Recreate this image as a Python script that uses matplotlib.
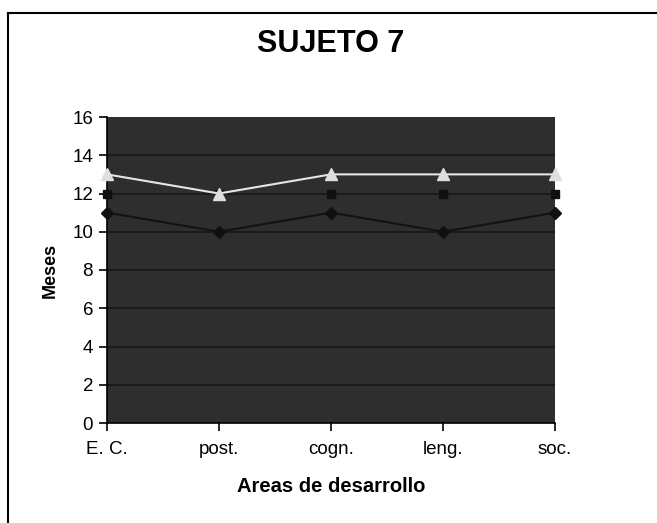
import matplotlib
matplotlib.use("Agg")
import matplotlib.pyplot as plt
from matplotlib.lines import Line2D

# Developmental areas and age-equivalent scores (months)
areas = ["E. C.", "post.", "cogn.", "leng.", "soc."]
serie_triangulo = [13, 12, 13, 13, 13]
serie_cuadrado = [12, 12, 12, 12, 12]
serie_rombo = [11, 10, 11, 10, 11]
y_ticks = [0, 2, 4, 6, 8, 10, 12, 14, 16]

plt.rcParams['font.family'] = ['Liberation Sans', 'DejaVu Sans']

fig = plt.figure(figsize=(6.57, 5.23), dpi=100)
fig.patch.set_facecolor("white")

ax = fig.add_axes([107 / 657, 1 - 423 / 523, 448 / 657, 306 / 523])
ax.set_facecolor("#2e2e2e")

x = list(range(len(areas)))
for yv in y_ticks[1:-1]:
    ax.axhline(yv, color="#161616", lw=1.2, zorder=1)

ax.plot(x, serie_rombo, color="#121212", lw=1.5, marker="D", ms=6,
        mfc="#101010", mec="#101010", clip_on=False, zorder=3)
ax.plot(x, serie_cuadrado, color="#1c1c1c", lw=1.5, marker="s", ms=6,
        mfc="#101010", mec="#101010", clip_on=False, zorder=3)
ax.plot(x, serie_triangulo, color="#e6e6e6", lw=1.5, marker="^", ms=8,
        mfc="#dedede", mec="#dedede", clip_on=False, zorder=4)

ax.set_xlim(0, 4)
ax.set_ylim(0, 16)
ax.set_yticks(y_ticks)
ax.set_xticks(x)
ax.set_xticklabels(areas)

for side in ("top", "right"):
    ax.spines[side].set_visible(False)
ax.spines["left"].set_color("black")
ax.spines["bottom"].set_color("black")
ax.spines["left"].set_linewidth(1.2)
ax.spines["bottom"].set_linewidth(1.2)
ax.tick_params(axis="both", direction="out", length=6, width=1.2,
               labelsize=13.5, colors="black", pad=4)
ax.tick_params(axis="x", pad=7)

ax.set_xlabel("Areas de desarrollo", fontsize=14.5, fontweight="bold", labelpad=14)
ax.set_ylabel("Meses", fontsize=13, fontweight="bold", labelpad=10)

fig.text(331 / 657, 1 - 44 / 523, "SUJETO 7", ha="center", va="center",
         fontsize=22, fontweight="bold")

# outer chart frame
fig.add_artist(Line2D([8 / 657, 1], [1 - 13 / 523, 1 - 13 / 523], color="black", lw=1.5))
fig.add_artist(Line2D([8 / 657, 8 / 657], [0, 1 - 13 / 523], color="black", lw=1.5))

fig.savefig("out.png", dpi=100, facecolor="white")
